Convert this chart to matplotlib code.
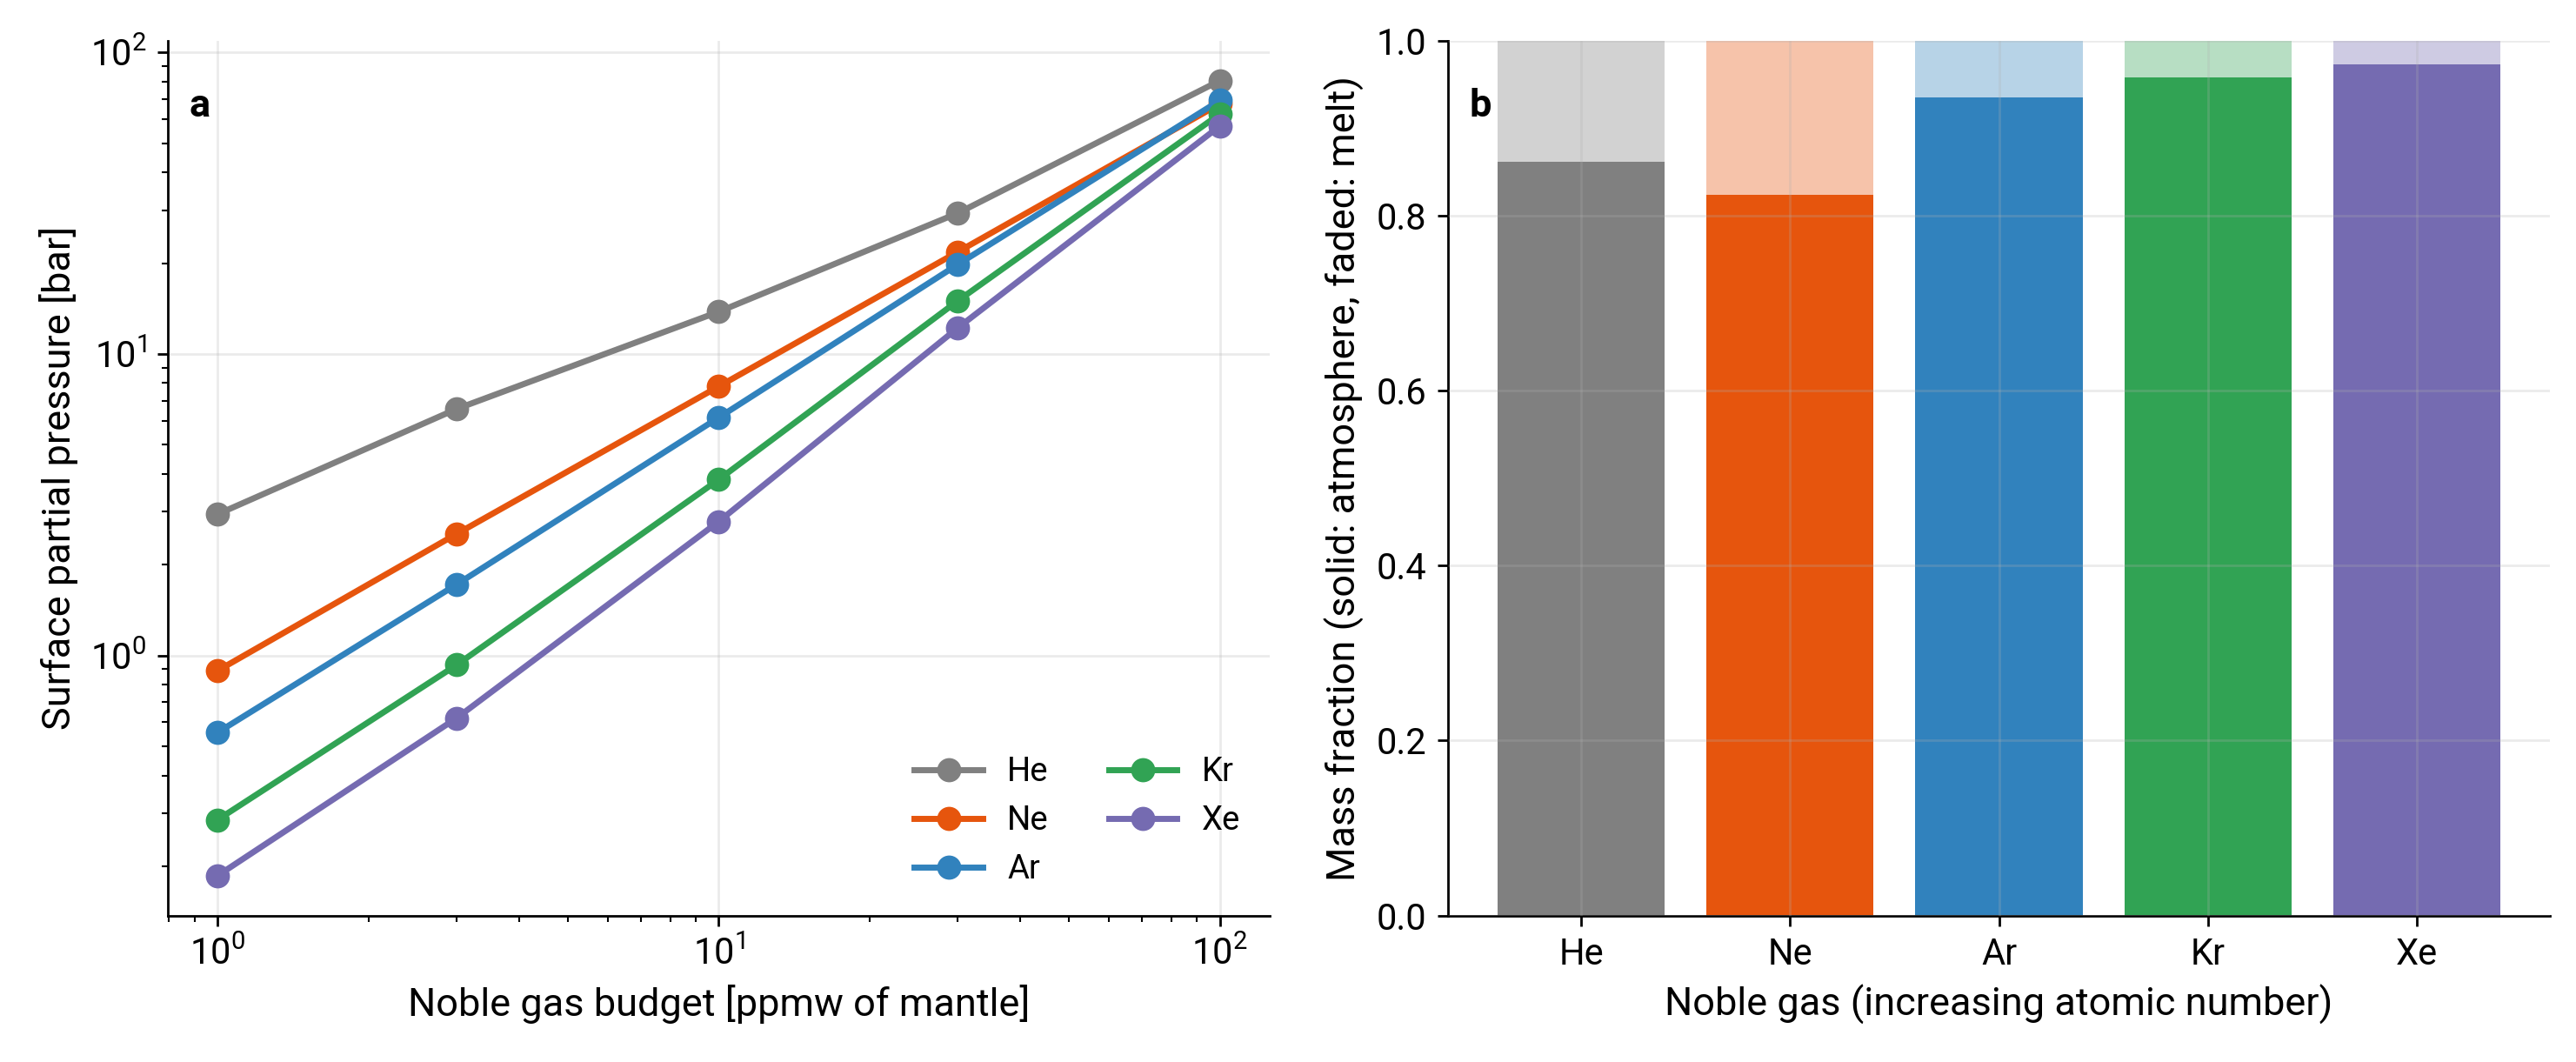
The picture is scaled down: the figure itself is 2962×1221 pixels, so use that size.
"""Noble gas partitioning: surface pressures and atmosphere/melt mass fractions."""

import matplotlib

matplotlib.use("Agg")
import matplotlib.pyplot as plt
import numpy as np

plt.rcParams["font.family"] = ["Roboto", "DejaVu Sans"]
plt.rcParams["font.size"] = 12
plt.rcParams["axes.labelsize"] = 13
plt.rcParams["xtick.labelsize"] = 12
plt.rcParams["ytick.labelsize"] = 12

# --- data ------------------------------------------------------------------
gases = ["He", "Ne", "Ar", "Kr", "Xe"]
colors = ["#808080", "#e6550d", "#3182bd", "#31a354", "#756bb1"]

budget_ppmw = [1, 3, 10, 30, 100]
pressure_he = [2.94, 6.57, 13.8, 29.3, 80.6]
pressure_ne = [0.89, 2.53, 7.8, 21.8, 67.5]
pressure_ar = [0.555, 1.72, 6.15, 19.8, 69.3]
pressure_kr = [0.285, 0.93, 3.83, 15.0, 62.5]
pressure_xe = [0.186, 0.62, 2.78, 12.2, 57.0]

atm_fraction = [0.862, 0.824, 0.935, 0.958, 0.973]


def _panel_pressure(ax):
    series = [pressure_he, pressure_ne, pressure_ar, pressure_kr, pressure_xe]
    for gas, color, values in zip(gases, colors, series):
        ax.plot(budget_ppmw, values, marker="o", color=color, lw=2, ms=7, label=gas)
    ax.set_xscale("log")
    ax.set_yscale("log")
    ax.set_xlabel("Noble gas budget [ppmw of mantle]")
    ax.set_ylabel("Surface partial pressure [bar]")
    ax.grid(True, which="major", color="#b0b0b0", alpha=0.25, lw=0.8)
    ax.legend(loc="lower right", ncol=2, frameon=False, fontsize=11,
              handlelength=2.05, handletextpad=0.75,
              labelspacing=0.5, columnspacing=1.8)
    ax.text(0.02, 0.913, "a", transform=ax.transAxes, fontweight="bold", fontsize=13)


def _panel_fraction(ax):
    x = np.arange(len(gases))
    melt = [1 - f for f in atm_fraction]
    ax.bar(x, atm_fraction, width=0.8, color=colors)
    ax.bar(x, melt, bottom=atm_fraction, width=0.8, color=colors, alpha=0.35)
    ax.set_xticks(x)
    ax.set_xticklabels(gases)
    ax.set_ylim(0, 1)
    ax.set_xlabel("Noble gas (increasing atomic number)")
    ax.set_ylabel("Mass fraction (solid: atmosphere, faded: melt)")
    ax.set_axisbelow(False)
    ax.grid(True, color="#b0b0b0", alpha=0.25, lw=0.8)
    ax.text(0.02, 0.913, "b", transform=ax.transAxes, fontweight="bold", fontsize=13)


fig = plt.figure(figsize=(11.848, 4.884), dpi=250)
ax_a = fig.add_axes([0.065, 0.138, 0.493 - 0.065, 0.9615 - 0.138])
ax_b = fig.add_axes([0.562, 0.138, 0.99 - 0.562, 0.9615 - 0.138])
_panel_pressure(ax_a)
_panel_fraction(ax_b)
for ax in (ax_a, ax_b):
    ax.spines["top"].set_visible(False)
    ax.spines["right"].set_visible(False)

fig.savefig("out.png", dpi=250)
